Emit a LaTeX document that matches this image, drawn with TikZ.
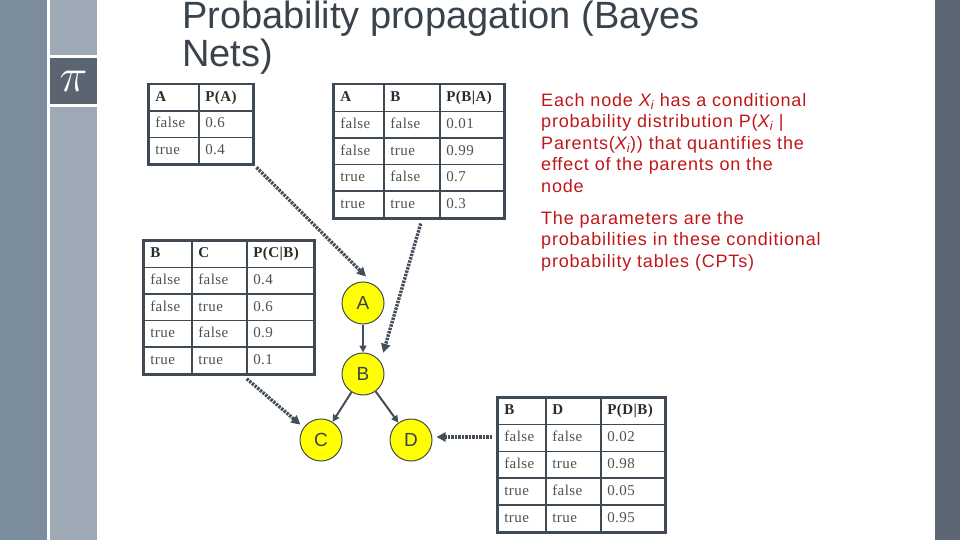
\documentclass[tikz,border=0pt]{standalone}
\usepackage{fontspec}
\setmainfont[LetterSpace=3]{Liberation Serif}
\newfontfamily\titlefont{Liberation Sans}
\newfontfamily\redfont[LetterSpace=4.5]{Liberation Sans}
\newfontfamily\bnfont{Liberation Sans}
\usetikzlibrary{matrix,arrows.meta}
\definecolor{barA}{HTML}{7C8E9E}
\definecolor{barB}{HTML}{9DAAB6}
\definecolor{pibox}{HTML}{5A6571}
\definecolor{barR}{HTML}{5D6773}
\definecolor{tline}{HTML}{3F4A55}
\definecolor{arrcol}{HTML}{434E59}
\definecolor{celltext}{HTML}{505050}
\definecolor{hdtext}{HTML}{2B2B2B}
\definecolor{titletext}{HTML}{39434D}
\definecolor{redtext}{HTML}{C0161B}
\definecolor{bnfill}{HTML}{FFFF00}
\tikzset{
  cpt/.style={matrix of nodes, inner sep=0pt, outer sep=0pt, draw=tline, line width=2.6pt,
    anchor=north west, row sep=-1.5pt, column sep=-1.5pt,
    nodes={draw=tline, line width=1.5pt, outer sep=0pt, inner xsep=6.5pt, inner ysep=0pt,
      align=left, text height=10.5pt, text depth=3pt, anchor=center,
      font=\fontsize{15}{17}\selectfont, text=celltext},
    row 1/.style={nodes={font=\fontsize{15}{17}\selectfont\bfseries, text=hdtext}}},
  bn/.style={circle, fill=bnfill, draw=tline, line width=1pt, minimum size=42pt, inner sep=0pt,
    font=\bnfont\fontsize{19}{19}\selectfont, text=titletext},
  dotarr/.style={draw=arrcol, line width=3.4pt, dash pattern=on 2.4pt off 1.1pt,
    -{Triangle[length=9pt,width=9pt]}},
  solarr/.style={draw=arrcol, line width=2pt, -{Triangle[length=7pt,width=7pt]}},
}
\begin{document}
\begin{tikzpicture}[x=1pt,y=-1pt]
\useasboundingbox (0,0) rectangle (960,540);
% side bars
\fill[barA] (0,0) rectangle (47,540);
\fill[barB] (50,0) rectangle (97,55);
\fill[barB] (50,107) rectangle (97,540);
\fill[pibox] (50,58) rectangle (97,104);
\node[text=white, inner sep=0pt] (pi) at (73.5,81) {\scalebox{1.9}{\Huge$\pi$}};
\fill[barR] (935,0) rectangle (960,540);
% title (base anchor = last line)
\node[anchor=base west, align=left, inner sep=0pt, text=titletext,
  font=\titlefont\fontsize{38}{38}\selectfont] (title) at (182,67)
  {Probability propagation (Bayes\\Nets)};
% description
\node[anchor=base west, align=left, inner sep=0pt, text=redtext,
  font=\redfont\fontsize{18}{21.5}\selectfont] (desc) at (541,267)
  {Each node \textit{X\textsubscript{i}} has a conditional\\
   probability distribution P(\textit{X\textsubscript{i}} |\\
   Parents(\textit{X\textsubscript{i}})) that quantifies the\\
   effect of the parents on the\\
   node\\[10.5pt]
   The parameters are the\\
   probabilities in these conditional\\
   probability tables (CPTs)};
% tables
\matrix[cpt, nodes={minimum height=26.3pt},
  column 1/.style={nodes={text width=37pt}},
  column 2/.style={nodes={text width=41pt}}] (tA) at (148,84) {
A & P(A)\\
false & 0.6\\
true & 0.4\\
};
\matrix[cpt, nodes={minimum height=26.6pt},
  column 1/.style={nodes={text width=37pt}},
  column 2/.style={nodes={text width=43pt}},
  column 3/.style={nodes={text width=51pt}}] (tBA) at (333,84) {
A & B & P(B|A)\\
false & false & 0.01\\
false & true & 0.99\\
true & false & 0.7\\
true & true & 0.3\\
};
\matrix[cpt, nodes={minimum height=26.6pt},
  column 1/.style={nodes={text width=35pt}},
  column 2/.style={nodes={text width=42pt}},
  column 3/.style={nodes={text width=54pt}}] (tCB) at (143,240) {
B & C & P(C|B)\\
false & false & 0.4\\
false & true & 0.6\\
true & false & 0.9\\
true & true & 0.1\\
};
\matrix[cpt, nodes={minimum height=26.8pt},
  column 1/.style={nodes={text width=35pt}},
  column 2/.style={nodes={text width=42pt}},
  column 3/.style={nodes={text width=51pt}}] (tDB) at (497,397) {
B & D & P(D|B)\\
false & false & 0.02\\
false & true & 0.98\\
true & false & 0.05\\
true & true & 0.95\\
};
% network nodes
\node[bn] (A) at (363,303) {A};
\node[bn] (B) at (363,374) {B};
\node[bn] (C) at (321,440) {C};
\node[bn] (D) at (411,440) {D};
\draw[solarr] (A) -- (B);
\draw[solarr] (B) -- (C);
\draw[solarr] (B) -- (D);
% dotted links
\draw[dotarr] ([shift={(3,3)}]tA.south east) -- ([shift={(3,-5)}]A.north);
\draw[dotarr] ([shift={(2,5)}]tBA.south) -- ([shift={(5,-6)}]B.45);
\draw[dotarr] ([shift={(0,5)}]tCB-5-2.south east) -- ([shift={(-3,-3)}]C.145);
\path (tDB.west |- D.east) ++(-5,-3) coordinate (dstart);
\draw[dotarr] (dstart) -- ([shift={(4,-3)}]D.east);
\end{tikzpicture}
\end{document}
